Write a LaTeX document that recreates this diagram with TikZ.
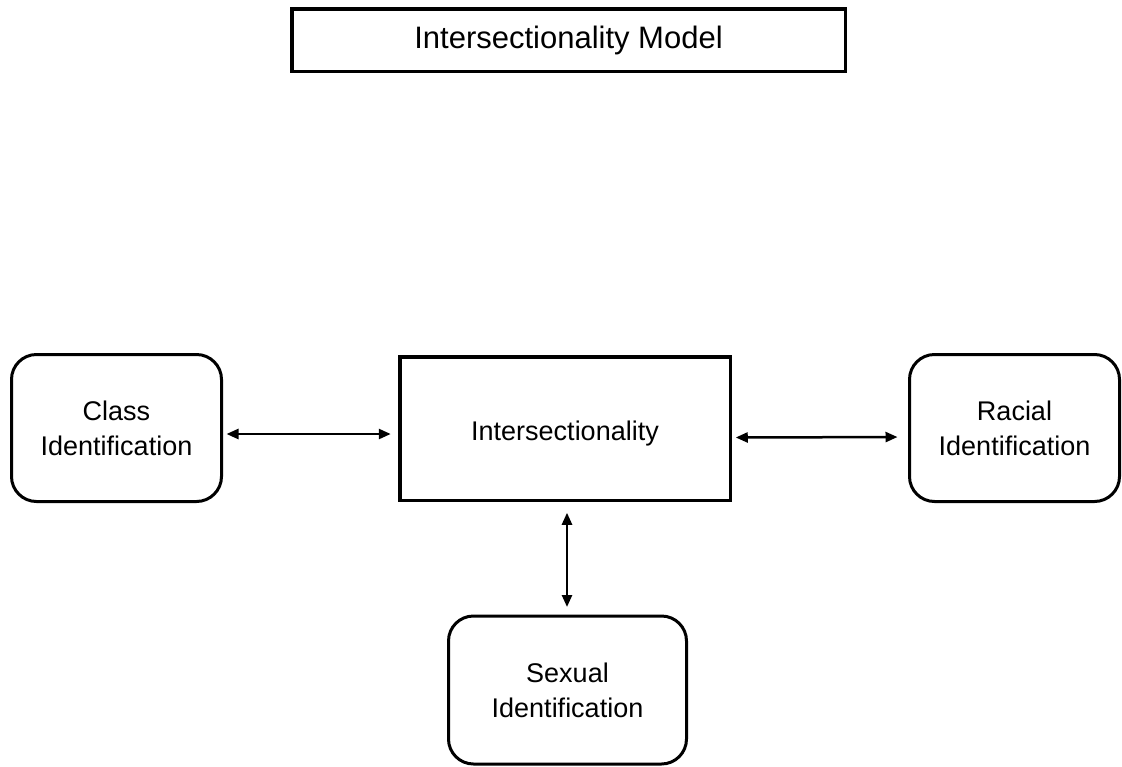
\documentclass[tikz,border=0pt]{standalone}
\usepackage{fontspec}
\setmainfont{Liberation Sans}
\usetikzlibrary{arrows.meta}
\begin{document}
\begin{tikzpicture}[x=1pt,y=-1pt,
  titlebox/.style={draw, line width=3.5pt, minimum width=553.5pt, minimum height=62.5pt, inner sep=0pt, outer sep=0pt, font=\fontsize{31}{37}\selectfont},
  rbox/.style={draw, line width=3pt, rounded corners=25pt, minimum width=210pt, minimum height=147pt, inner sep=0pt, outer sep=0pt, align=center, font=\fontsize{27}{35}\selectfont},
  cbox/.style={draw, line width=3.5pt, minimum width=330.5pt, minimum height=143.5pt, inner sep=0pt, outer sep=0pt, font=\fontsize{27}{35}\selectfont},
  link/.style={line width=2.5pt, {Triangle[length=12pt,width=10pt]}-{Triangle[length=12pt,width=10pt]}}]
\useasboundingbox (0,0) rectangle (1122,766);
\fill[white] (0,0) rectangle (1122,766);
\node[titlebox] (title) at (568.5,40) {Intersectionality Model};
\node[cbox] (int) at (565,428.5) {\raisebox{-5pt}[\height][\depth]{Intersectionality}};
\node[rbox] (class) at (116.5,428) {Class\\Identification};
\node[rbox] (race) at (1014.5,428) {Racial\\Identification};
\node[rbox, minimum width=238pt, minimum height=148pt] (sex) at (567.5,690) {Sexual\\Identification};
\draw[link, shorten <=5pt, shorten >=9pt] ([yshift=-6pt]class.east) -- ([yshift=-5.5pt]int.west);
\draw[link, shorten <=5.5pt, shorten >=12pt] ([yshift=-9pt]int.east) -- ([yshift=-9pt]race.west);
\draw[link, shorten <=12.5pt, shorten >=9pt] ([xshift=2pt]int.south) -- ([xshift=-0.5pt]sex.north);
\end{tikzpicture}
\end{document}
